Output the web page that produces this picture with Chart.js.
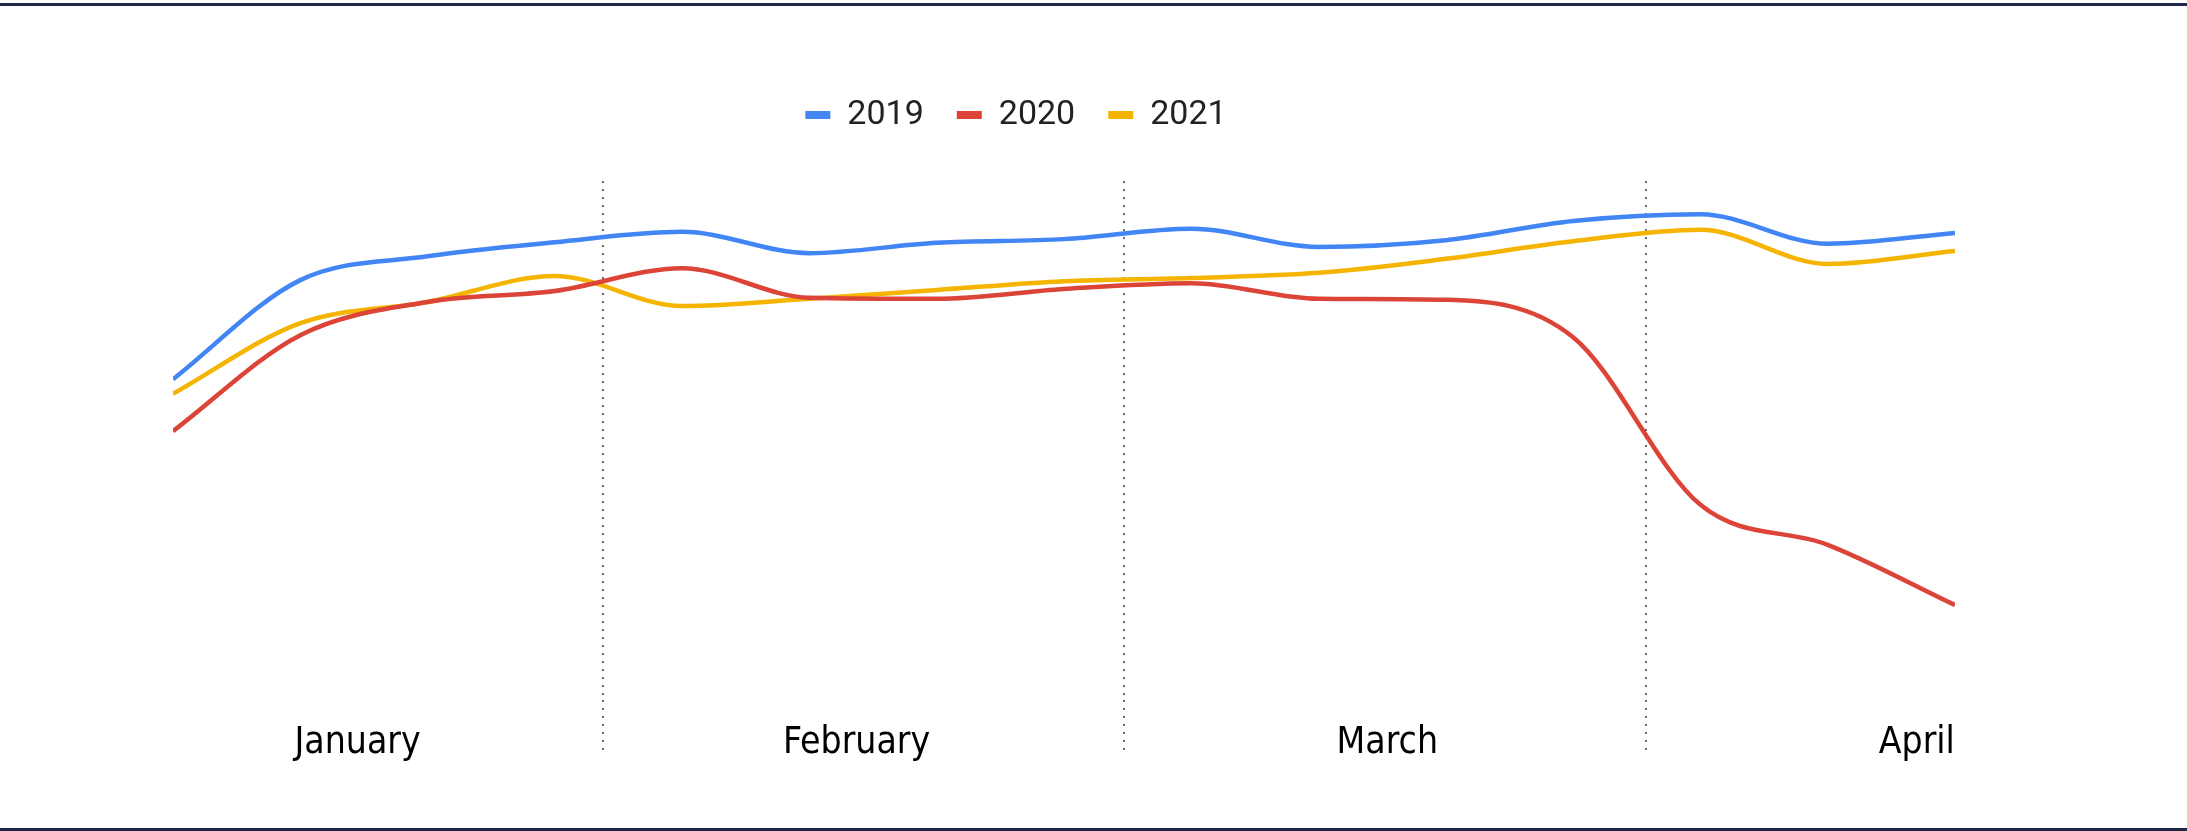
<!DOCTYPE html>
<html>
<head>
<meta charset="utf-8">
<script src="https://cdn.jsdelivr.net/npm/chart.js@4.4.1/dist/chart.umd.min.js"></script>
<style>
  body { margin: 0; background: #fff; }
  #wrap { position: relative; width: 2187px; height: 831px; }
  .rule { position: absolute; left: 0; width: 2187px; height: 3px; background: #1f2746; }
</style>
</head>
<body>
<div id="wrap">
  <canvas id="myChart"></canvas>
  <div class="rule" style="top:3px"></div>
  <div class="rule" style="bottom:0"></div>
</div>
<script>
// weekly points
let semanas = [1, 2, 3, 4, 5, 6, 7, 8, 9, 10, 11, 12, 13, 14, 15];
let serie2019 = [61.8, 80.9, 85.5, 88.2, 90.2, 86.1, 88.1, 88.8, 90.8, 87.3, 88.6, 92.3, 93.6, 87.9, 90.0];
let serie2020 = [51.8, 70.3, 76.7, 78.8, 83.2, 77.5, 77.3, 79.2, 80.3, 77.3, 77.1, 69.9, 37.6, 29.9, 18.3];
let serie2021 = [59.0, 72.6, 76.7, 81.7, 75.9, 77.3, 79.0, 80.7, 81.3, 82.3, 85.0, 88.4, 90.6, 84.0, 86.5];

// month labels and where they sit on the week axis
let meses = ["January", "February", "March", "April"];
let posMeses = [2.45, 6.37, 10.54, 14.7];
let cortesMeses = [4.38, 8.47, 12.57];

let colores = ["#4285f4", "#db4437", "#f4b400"];

function puntos(serie){
    return serie.map((v, i) => ({x: semanas[i], y: v}));
}

const datasets = [
    {label: "2019", data: puntos(serie2019), borderColor: colores[0], backgroundColor: colores[0]},
    {label: "2020", data: puntos(serie2020), borderColor: colores[1], backgroundColor: colores[1]},
    {label: "2021", data: puntos(serie2021), borderColor: colores[2], backgroundColor: colores[2]}
];

// nudges the legend to where the original had it
const moverLeyenda = {
    id: "moverLeyenda",
    afterLayout(chart){
        const l = chart.legend;
        l.top -= 39;
        l.left -= 48;
        l.right -= 48;
    }
};

const esCorte = v => cortesMeses.some(c => Math.abs(c - v) < 1e-6);

const conf = {
    type: "line",
    data: {datasets},
    options: {
        responsive: true,
        maintainAspectRatio: false,
        animation: false,
        layout: {padding: {top: 104, left: 173, right: 232, bottom: 51}},
        elements: {
            line: {borderWidth: 4.5, cubicInterpolationMode: "monotone"},
            point: {radius: 0}
        },
        plugins: {
            tooltip: {enabled: false},
            legend: {
                position: "top",
                labels: {
                    boxWidth: 25,
                    boxHeight: 8,
                    padding: 33,
                    color: "#222",
                    font: {family: "Roboto, sans-serif", size: 34},
                    generateLabels(chart){
                        const items = Chart.defaults.plugins.legend.labels.generateLabels(chart);
                        items.forEach(it => { it.lineWidth = 0; });
                        return items;
                    }
                }
            }
        },
        scales: {
            x: {
                type: "linear",
                min: 1,
                max: 15,
                border: {display: false, dash: [2, 6]},
                afterBuildTicks(scale){
                    scale.ticks = cortesMeses.concat(posMeses).sort((a, b) => a - b).map(v => ({value: v}));
                },
                afterFit(scale){
                    scale.height = 80;
                },
                grid: {
                    color: ctx => esCorte(ctx.tick.value) ? "#6b6b6b" : "rgba(0,0,0,0)",
                    tickColor: ctx => esCorte(ctx.tick.value) ? "#6b6b6b" : "rgba(0,0,0,0)",
                    lineWidth: 2,
                    tickWidth: 2,
                    tickBorderDash: [2, 6],
                    drawTicks: true,
                    tickLength: 54
                },
                ticks: {
                    autoSkip: false,
                    maxRotation: 0,
                    padding: -33,
                    color: "#000",
                    font: {family: "'DejaVu Sans Condensed', 'DejaVu Sans', sans-serif", size: 37},
                    callback(value){
                        const i = posMeses.findIndex(p => Math.abs(p - value) < 1e-6);
                        return i >= 0 ? meses[i] : "";
                    }
                }
            },
            y: {
                display: false,
                min: 0,
                max: 100
            }
        }
    },
    plugins: [moverLeyenda]
};

let grafico = new Chart(document.getElementById("myChart"), conf);
</script>
</body>
</html>
